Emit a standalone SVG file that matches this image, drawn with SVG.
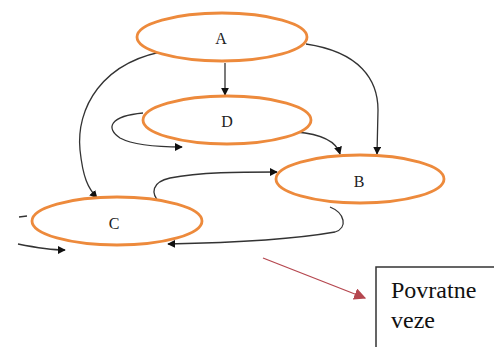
<svg xmlns="http://www.w3.org/2000/svg" width="494" height="347" viewBox="0 0 494 347">
<defs>
<style>
.node ellipse{fill:#fff;stroke:#ed8a3c;stroke-width:2.8}
.node text{font-family:"Liberation Serif",serif;font-size:16px;fill:#222;text-anchor:middle}
.edge{fill:none;stroke:#333;stroke-width:1.3}
.lbl{font-family:"Liberation Serif",serif;font-size:24px;fill:#111}
</style>
<marker id="ah" viewBox="0 0 10 10" refX="9" refY="5" markerWidth="8" markerHeight="8" markerUnits="userSpaceOnUse" orient="auto"><path d="M0,0L10,5L0,10z" fill="#111"/></marker>
<marker id="rh" viewBox="0 0 10 10" refX="9" refY="5" markerWidth="12" markerHeight="12" markerUnits="userSpaceOnUse" orient="auto"><path d="M0,0L10,5L0,10z" fill="#b5474f"/></marker>
</defs>
<rect width="494" height="347" fill="#fff"/>
<g id="connectors">
<path class="edge" d="M225,63 L225,95" marker-end="url(#ah)"/>
<path class="edge" d="M306,44 C360,52 378,80 378,110 L377,154" marker-end="url(#ah)"/>
<path class="edge" d="M172,50 C100,60 76,110 80,150 C83,178 88,188 97,198" marker-end="url(#ah)"/>
<path class="edge" d="M143,113 C110,116 105,128 120,138 C135,146 160,147 182,147" marker-end="url(#ah)"/>
<path class="edge" d="M296,132 C320,134 336,140 340,154" marker-end="url(#ah)"/>
<path class="edge" d="M160,203 C150,193 152,182 170,178 C200,172 240,172 277,172" marker-end="url(#ah)"/>
<path class="edge" d="M330,207 C345,213 348,228 335,232 C290,240 220,243 168,244" marker-end="url(#ah)"/>
<path class="edge" d="M19,217 L27,216"/>
<path class="edge" d="M18,244 C33,247 48,250 65,250" marker-end="url(#ah)"/>
<path d="M263,258 L365,298" fill="none" stroke="#b5474f" stroke-width="1.3" marker-end="url(#rh)"/>
</g>
<g id="A" class="node"><ellipse cx="222" cy="37" rx="85" ry="24"/><text x="221" y="44">A</text></g>
<g id="D" class="node"><ellipse cx="227" cy="120" rx="84" ry="24"/><text x="227" y="127">D</text></g>
<g id="B" class="node"><ellipse cx="360" cy="179" rx="84" ry="24"/><text x="359" y="187">B</text></g>
<g id="C" class="node"><ellipse cx="117" cy="221" rx="85" ry="24"/><text x="114" y="229">C</text></g>
<g id="legend">
<path d="M376,347 L376,267 L494,267" fill="none" stroke="#333" stroke-width="1.5"/>
<text class="lbl" x="391" y="298">Povratne</text>
<text class="lbl" x="391" y="328">veze</text>
</g>
</svg>
